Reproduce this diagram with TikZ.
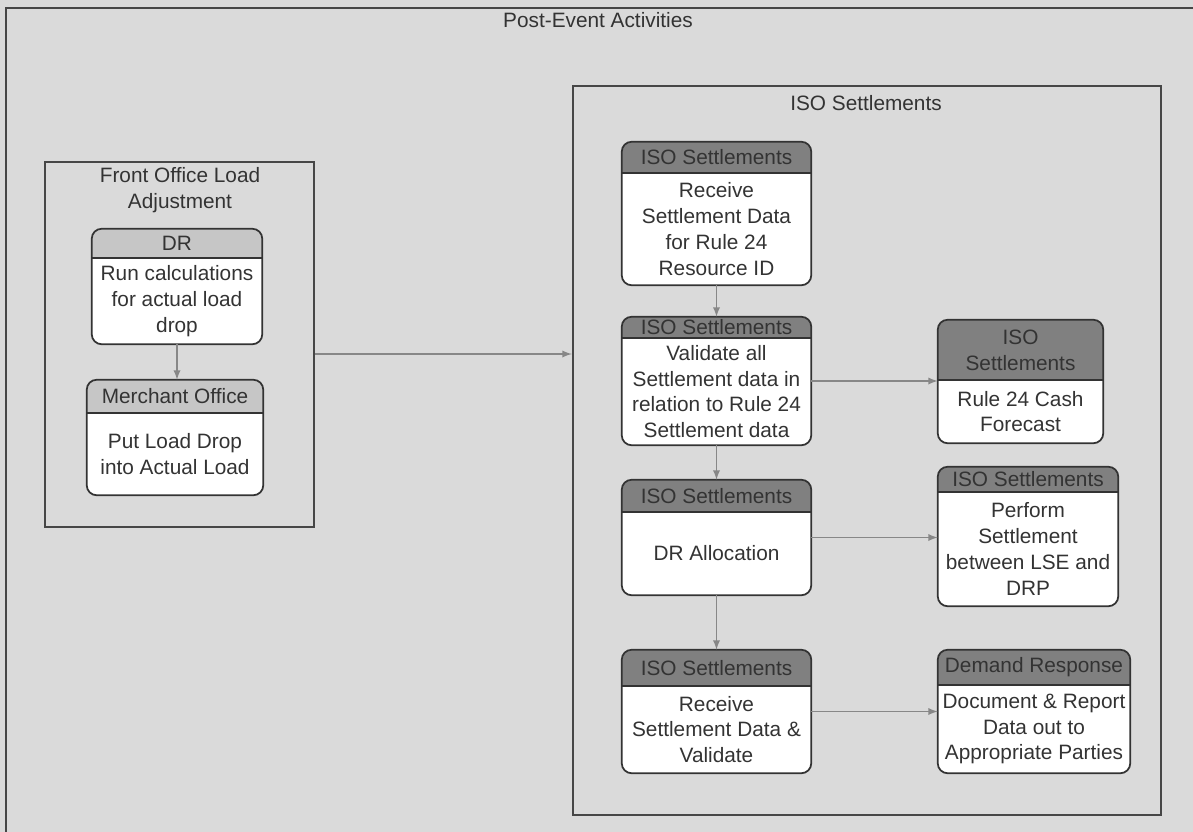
\documentclass[tikz,border=0pt]{standalone}
\usepackage{fontspec}
\setmainfont{Liberation Sans}
\usetikzlibrary{fit}
\definecolor{bggray}{RGB}{218,218,218}
\definecolor{hdrdark}{RGB}{128,128,128}
\definecolor{hdrlight}{RGB}{198,198,198}
\definecolor{edgegray}{RGB}{70,70,70}
\definecolor{flowgray}{RGB}{135,135,135}
\tikzset{
  frame/.style={draw=edgegray, line width=1.8pt},
  boxline/.style={draw=black!80, line width=1.3pt},
  flow/.style={draw=flowgray, line width=1.4pt, -latex},
  lbl/.style={align=center, inner sep=0pt, font=\fontsize{15.6}{19.3}\selectfont, text=black!80},
}
% box with a header strip: name, left, top, right, bottom, header bottom, header fill, header, body
\newcommand{\actbox}[9]{%
  \node[fit={(#2,#3) (#4,#5)}, inner sep=0pt, rounded corners=7.5pt, fill=white] (#1) {};
  \begin{scope}
    \clip[rounded corners=7.5pt] (#1.south west) rectangle (#1.north east);
    \fill[#7] (#2,#3) rectangle (#4,#6);
  \end{scope}
  \draw[boxline] (#2,#6) -- (#4,#6);
  \draw[boxline, rounded corners=7.5pt] (#1.south west) rectangle (#1.north east);
  \node[lbl] (#1-head) at ({(#2+#4)/2},{(#3+#6)/2}) {#8};
  \node[lbl] (#1-text) at ({(#2+#4)/2},{(#6+#5)/2}) {#9};
}
\begin{document}
\begin{tikzpicture}[x=0.75pt, y=-0.75pt]
\clip (0,0) rectangle (1193,832);
\fill[bggray] (0,0) rectangle (1193,832);
% outer frame, runs off the page
\draw[frame] (6,8) rectangle (1230,870);
\node[lbl] (post) at (598,20) {Post-Event Activities};

% front office
\node[fit={(45,162) (314,527)}, inner sep=0pt, frame] (front) {};
\node[lbl, anchor=north] (front-title) at (180,167) {Front Office Load\\Adjustment};
\actbox{dr}{92}{229}{262}{344}{258}{hdrlight}{DR}{Run calculations\\for actual load\\drop}
\actbox{mo}{87}{380}{263}{495}{413}{hdrlight}{Merchant Office}{Put Load Drop\\into Actual Load}

% iso settlements
\node[fit={(573,86) (1161,815)}, inner sep=0pt, frame] (iso) {};
\node[lbl] (iso-title) at (866,103) {ISO Settlements};
\actbox{recv}{622}{142}{811}{285}{173}{hdrdark}{ISO Settlements}{Receive\\Settlement Data\\for Rule 24\\Resource ID}
\actbox{valid}{622}{317}{811}{445}{338}{hdrdark}{ISO Settlements}{Validate all\\Settlement data in\\relation to Rule 24\\Settlement data}
\actbox{alloc}{622}{480}{811}{595}{512}{hdrdark}{ISO Settlements}{DR Allocation}
\actbox{recvb}{622}{650}{811}{773}{686}{hdrdark}{ISO Settlements}{Receive\\Settlement Data \&\\Validate}
\actbox{cash}{938}{320}{1103}{443}{380}{hdrdark}{ISO\\Settlements}{Rule 24 Cash\\Forecast}
\actbox{perf}{938}{467}{1118}{606}{492}{hdrdark}{ISO Settlements}{Perform\\Settlement\\between LSE and\\DRP}
\actbox{dresp}{938}{650}{1130}{773}{685}{hdrdark}{Demand Response}{Document \& Report\\Data out to\\Appropriate Parties}

% connectors
\coordinate (lk) at (0,354);
\draw[flow] (dr.south) -- (dr.south |- mo.north);
\draw[flow] (front.east |- lk) -- (iso.west |- lk);
\draw[flow] (recv.south) -- (recv.south |- valid.north);
\draw[flow] (valid.south) -- (valid.south |- alloc.north);
\draw[flow] (alloc.south) -- (alloc.south |- recvb.north);
\draw[flow] (valid.east) -- (valid.east -| cash.west);
\draw[flow] (alloc.east) -- (alloc.east -| perf.west);
\draw[flow] (recvb.east) -- (recvb.east -| dresp.west);
\end{tikzpicture}
\end{document}
